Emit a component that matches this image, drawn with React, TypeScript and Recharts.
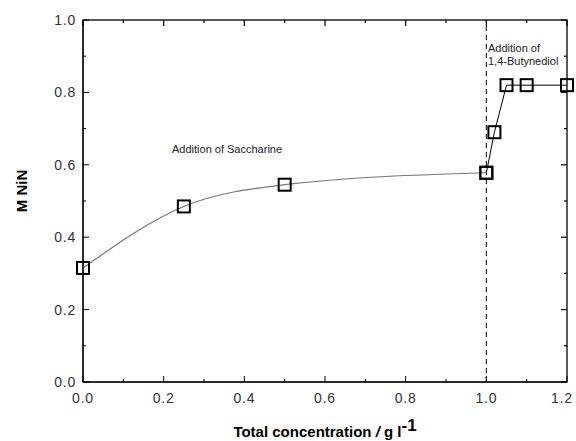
import React from 'react';
import { LineChart, Line, XAxis, YAxis, ReferenceLine, Customized } from 'recharts';

const saccharineConc = [0, 0.25, 0.5, 1.0];
const saccharineM = [0.315, 0.485, 0.545, 0.578];
const butynediolConc = [1.0, 1.02, 1.05, 1.1, 1.2];
const butynediolM = [0.578, 0.69, 0.82, 0.82, 0.82];
const xTicks = [0, 0.1, 0.2, 0.3, 0.4, 0.5, 0.6, 0.7, 0.8, 0.9, 1.0, 1.1, 1.2];
const yTicks = [0, 0.1, 0.2, 0.3, 0.4, 0.5, 0.6, 0.7, 0.8, 0.9, 1.0];

const saccharineData = saccharineConc.map((c, i) => ({ c, m: saccharineM[i] }));
const butynediolData = butynediolConc.map((c, i) => ({ c, m: butynediolM[i] }));

const FONT = '"Liberation Sans", Arial, sans-serif';
const PLOT_L = 83;
const PLOT_T = 20;
const PLOT_W = 484;
const PLOT_H = 362;
const X_MAX = 1.2;
const Y_MAX = 1.0;

const isMajor = (v: number) => Math.round(v * 10) % 2 === 0;

const makeTick = (orient: string) => (props: any) => {
  const x = Number(props.x);
  const y = Number(props.y);
  const v = props.payload.value;
  const major = isMajor(v);
  const len = major ? 6 : 3;
  if (orient === 'bottom') {
    const last = Math.abs(v - 1.2) < 1e-6;
    return (
      <g>
        <line x1={x} y1={y} x2={x} y2={y - len} stroke="#000" />
        {major && (
          <text
            x={last ? x - 5 : x}
            y={y + 21}
            textAnchor="middle"
            fontSize={14}
            letterSpacing={0.8}
            fill="#333"
            fontFamily={FONT}
          >
            {v.toFixed(1)}
          </text>
        )}
      </g>
    );
  }
  return (
    <g>
      <line x1={x} y1={y} x2={x + len} y2={y} stroke="#000" />
      {major && (
        <text
          x={x - 7}
          y={y + 5}
          textAnchor="end"
          fontSize={14}
          letterSpacing={0.8}
          fill="#333"
          fontFamily={FONT}
        >
          {v.toFixed(1)}
        </text>
      )}
    </g>
  );
};

const squareDot = (p: any) => (
  <rect
    key={`d-${p.index}-${p.cx}`}
    x={p.cx - 6}
    y={p.cy - 6}
    width={12}
    height={12}
    fill="none"
    stroke="#000"
    strokeWidth={2}
  />
);

const Frame = () => (
  <g>
    <rect x={PLOT_L} y={PLOT_T} width={PLOT_W} height={PLOT_H} fill="none" stroke="#000" strokeWidth={1.3} />
    {xTicks.map((v) => {
      const x = PLOT_L + (v / X_MAX) * PLOT_W;
      return (
        <line key={`ft-${v}`} x1={x} y1={PLOT_T} x2={x} y2={PLOT_T + (isMajor(v) ? 6 : 3)} stroke="#000" strokeWidth={1.2} />
      );
    })}
    {yTicks.map((v) => {
      const y = PLOT_T + PLOT_H - (v / Y_MAX) * PLOT_H;
      const xr = PLOT_L + PLOT_W;
      return (
        <line key={`fr-${v}`} x1={xr} y1={y} x2={xr - (isMajor(v) ? 6 : 3)} y2={y} stroke="#000" strokeWidth={1.2} />
      );
    })}
  </g>
);

const Texts = () => (
  <g fontFamily={FONT}>
    <text x={172} y={153} fontSize={11} fill="#222">Addition of Saccharine</text>
    <text x={488} y={52} fontSize={11} fill="#222">Addition of</text>
    <text x={488} y={65} fontSize={11} fill="#222">1,4-Butynediol</text>
    <text
      x={0}
      y={0}
      transform="translate(27,191) rotate(-90)"
      textAnchor="middle"
      fontSize={15}
      fontWeight="bold"
      fill="#000"
    >
      M NiN
    </text>
    <text x={325} y={437} textAnchor="middle" fontSize={15} fontWeight="bold" fill="#000">
      Total concentration <tspan fontStyle="italic">/</tspan> g l
      <tspan dy={-6} fontSize={17}>-1</tspan>
    </text>
  </g>
);

const Overlay = () => (
  <g>
    <Frame />
    <Texts />
  </g>
);

export default function App() {
  return (
    <div style={{ position: 'absolute', left: 0, top: 0, background: '#fff' }}>
      <LineChart width={576} height={441} margin={{ top: 20, right: 9, bottom: 0, left: 0 }}>
        <XAxis
          dataKey="c"
          type="number"
          domain={[0, 1.2]}
          ticks={xTicks}
          interval={0}
          orientation="bottom"
          height={59}
          tickSize={0}
          tickMargin={0}
          tick={makeTick('bottom')}
          axisLine={{ stroke: '#000' }}
        />
        <YAxis
          type="number"
          domain={[0, 1.0]}
          ticks={yTicks}
          interval={0}
          orientation="left"
          width={83}
          tickSize={0}
          tickMargin={0}
          tick={makeTick('left')}
          axisLine={{ stroke: '#000' }}
        />
        <ReferenceLine x={1.0} stroke="#000" strokeDasharray="5 4" ifOverflow="visible" />
        <Line
          data={saccharineData}
          dataKey="m"
          type="monotone"
          stroke="#777"
          strokeWidth={1.2}
          dot={squareDot}
          isAnimationActive={false}
        />
        <Line
          data={butynediolData}
          dataKey="m"
          type="linear"
          stroke="#000"
          strokeWidth={1}
          dot={squareDot}
          isAnimationActive={false}
        />
        <Customized component={Overlay} />
      </LineChart>
    </div>
  );
}
